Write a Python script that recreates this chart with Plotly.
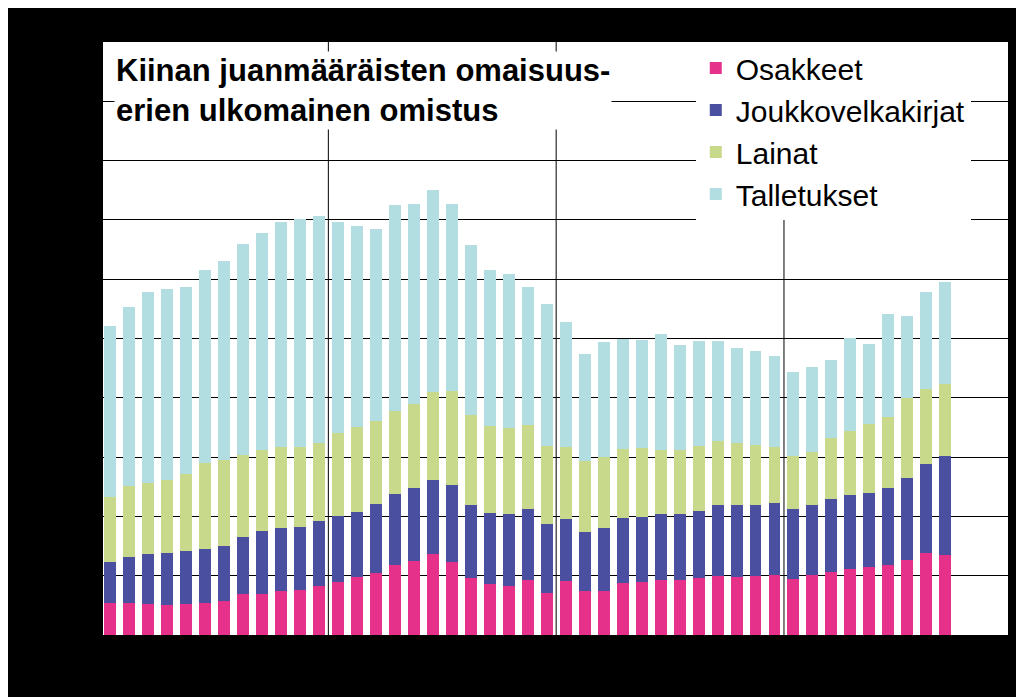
import plotly.graph_objects as go

# pixel readings converted to grid units (one gridline = 1 unit)
pink_px = [603,603,604,605,604,603,601,594,594,591,590,586,
           582,577,573,565,561,554,562,578,584,586,580,593,
           581,591,591,583,582,580,580,578,576,577,576,575,
           579,575,572,569,567,565,560,553,555]
blue_px = [562,557,554,553,551,549,546,537,531,528,527,521,
           516,512,504,494,488,480,485,505,513,514,509,524,
           519,532,528,518,517,514,514,511,505,505,505,503,
           509,505,499,495,493,488,478,464,456]
green_px = [497,486,483,480,474,463,460,455,450,447,447,443,
            433,427,421,411,404,392,391,415,426,428,425,446,
            447,461,457,449,448,450,450,446,441,443,445,447,
            456,452,438,431,424,417,398,389,384]
total_px = [326,307,292,289,287,270,261,244,233,222,219,216,
            222,226,229,205,204,190,204,245,270,274,287,304,
            322,354,342,339,340,334,345,341,341,348,351,356,
            372,367,360,338,344,314,316,292,282]

def units(px):
    return [round((635 - p) / 59.3, 2) for p in px]

osakkeet = units(pink_px)
jvk_top = units(blue_px)
lainat_top = units(green_px)
total = units(total_px)
joukko = [round(b - a, 2) for a, b in zip(osakkeet, jvk_top)]
lainat = [round(b - a, 2) for a, b in zip(jvk_top, lainat_top)]
talletukset = [round(b - a, 2) for a, b in zip(lainat_top, total)]
months = list(range(len(osakkeet)))

names = ["Osakkeet", "Joukkovelkakirjat", "Lainat", "Talletukset"]
colors = ["#e6318a", "#4b4f9f", "#c9d98b", "#b2dee1"]
series = [osakkeet, joukko, lainat, talletukset]

fig = go.Figure()
for n, c, s in zip(names, colors, series):
    fig.add_trace(go.Bar(x=months, y=s, name=n, marker=dict(color=c, line=dict(width=0)),
                         width=0.63))

for xv in [11.5, 23.5, 35.5]:
    fig.add_shape(type="line", x0=xv, x1=xv, y0=0, y1=10, xref="x", yref="y",
                  line=dict(color="black", width=1), layer="below")

fig.add_annotation(x=0.012, y=0.985, xref="paper", yref="paper", xanchor="left", yanchor="top",
                   text="<b>Kiinan juanmääräisten omaisuus-<br>erien ulkomainen omistus</b>",
                   showarrow=False, align="left", bgcolor="white",
                   font=dict(family="Liberation Sans, Arial", size=31, color="black"))

fig.update_layout(
    barmode="stack", bargap=0,
    paper_bgcolor="black", plot_bgcolor="white",
    width=1024, height=697,
    margin=dict(l=95, r=24, t=34, b=70),
    legend=dict(x=0.655, y=1.0, xanchor="left", yanchor="top", bgcolor="white",
                traceorder="normal", font=dict(family="Liberation Sans, Arial", size=30, color="black"),
                itemsizing="constant", tracegroupgap=0),
    xaxis=dict(range=[-0.37, 47.3], showticklabels=False, showgrid=False, zeroline=False,
               ticks="outside", tickvals=[11.5, 23.5, 35.5, 44.8, 46.6], ticklen=6, tickcolor="black"),
    yaxis=dict(range=[0, 10], dtick=1, showticklabels=False, showgrid=True, gridcolor="black",
               gridwidth=1, zeroline=False),
    showlegend=True,
)
fig.write_html("out.html")
